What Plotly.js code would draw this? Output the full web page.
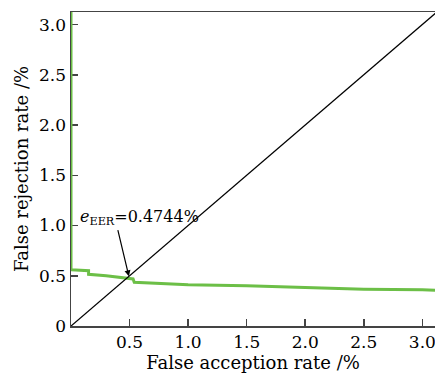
<!DOCTYPE html>
<html>
<head>
<meta charset="utf-8">
<script src="https://cdn.plot.ly/plotly-3.0.1.min.js"></script>
<style>html,body{margin:0;padding:0;background:#fff;}#chart{width:435px;height:376px;}</style>
</head>
<body>
<div id="chart"></div>
<script>
// FAR (%) vs FRR (%) curve
var farValues = [0, 0, 0.15, 0.15, 0.3, 0.47, 0.53, 0.54, 0.8, 1.0, 1.5, 2.0, 2.5, 3.0, 3.2];
var frrValues = [3.6, 0.56, 0.55, 0.515, 0.50, 0.476, 0.468, 0.435, 0.42, 0.41, 0.40, 0.38, 0.366, 0.36, 0.352];
// equal error line
var eqX = [0, 3.2];
var eqY = [0, 3.2];
var eerValue = 0.4744;
var xTickVals = [0.5, 1.0, 1.5, 2.0, 2.5, 3.0];
var xTickText = ['0.5', '1.0', '1.5', '2.0', '2.5', '3.0'];
var yTickVals = [0, 0.5, 1.0, 1.5, 2.0, 2.5, 3.0];
var yTickText = ['0', '0.5', '1.0', '1.5', '2.0', '2.5', '3.0'];

var font = 'DejaVu Serif, Liberation Serif, serif';
var traces = [
  {x: farValues, y: frrValues, mode: 'lines', line: {color: '#6cbf47', width: 3}, hoverinfo: 'none'},
  {x: eqX, y: eqY, mode: 'lines', line: {color: '#000', width: 1.3}, hoverinfo: 'none'}
];
var layout = {
  width: 435, height: 376,
  margin: {l: 71, r: 0, t: 12, b: 50},
  showlegend: false,
  paper_bgcolor: '#fff', plot_bgcolor: '#fff',
  font: {family: font, size: 17, color: '#000'},
  xaxis: {
    range: [0, 3.108], tickvals: xTickVals, ticktext: xTickText,
    ticks: 'inside', ticklen: 7, tickwidth: 1.5, tickcolor: '#444',
    ticklabeloverflow: 'allow',
    showline: true, linecolor: '#444', linewidth: 1.5, mirror: true,
    showgrid: false, zeroline: false,
    title: {text: 'False acception rate /%', font: {family: font, size: 18}, standoff: 4},
    automargin: false
  },
  yaxis: {
    range: [0, 3.125], tickvals: yTickVals, ticktext: yTickText,
    ticks: 'inside', ticklen: 7, tickwidth: 1.5, tickcolor: '#444',
    showline: true, linecolor: '#444', linewidth: 1.5, layer: 'below traces',
    showgrid: false, zeroline: false,
    title: {text: 'False rejection rate /%', font: {family: font, size: 18}, standoff: 6},
    automargin: false
  },
  annotations: [
    {x: 0.06, y: 1.08, xref: 'x', yref: 'y', xanchor: 'left', yanchor: 'middle', showarrow: false,
     text: '<i>e</i><sub>EER</sub>=' + eerValue + '%', font: {family: font, size: 16, color: '#000'}},
    {x: eerValue + 0.02, y: eerValue + 0.02, xref: 'x', yref: 'y', axref: 'x', ayref: 'y', ax: 0.397, ay: 0.97,
     text: '', showarrow: true, arrowhead: 2, arrowsize: 1, arrowwidth: 1.2, arrowcolor: '#000', standoff: 0}
  ]
};
Plotly.newPlot('chart', traces, layout, {staticPlot: true});
</script>
</body>
</html>
